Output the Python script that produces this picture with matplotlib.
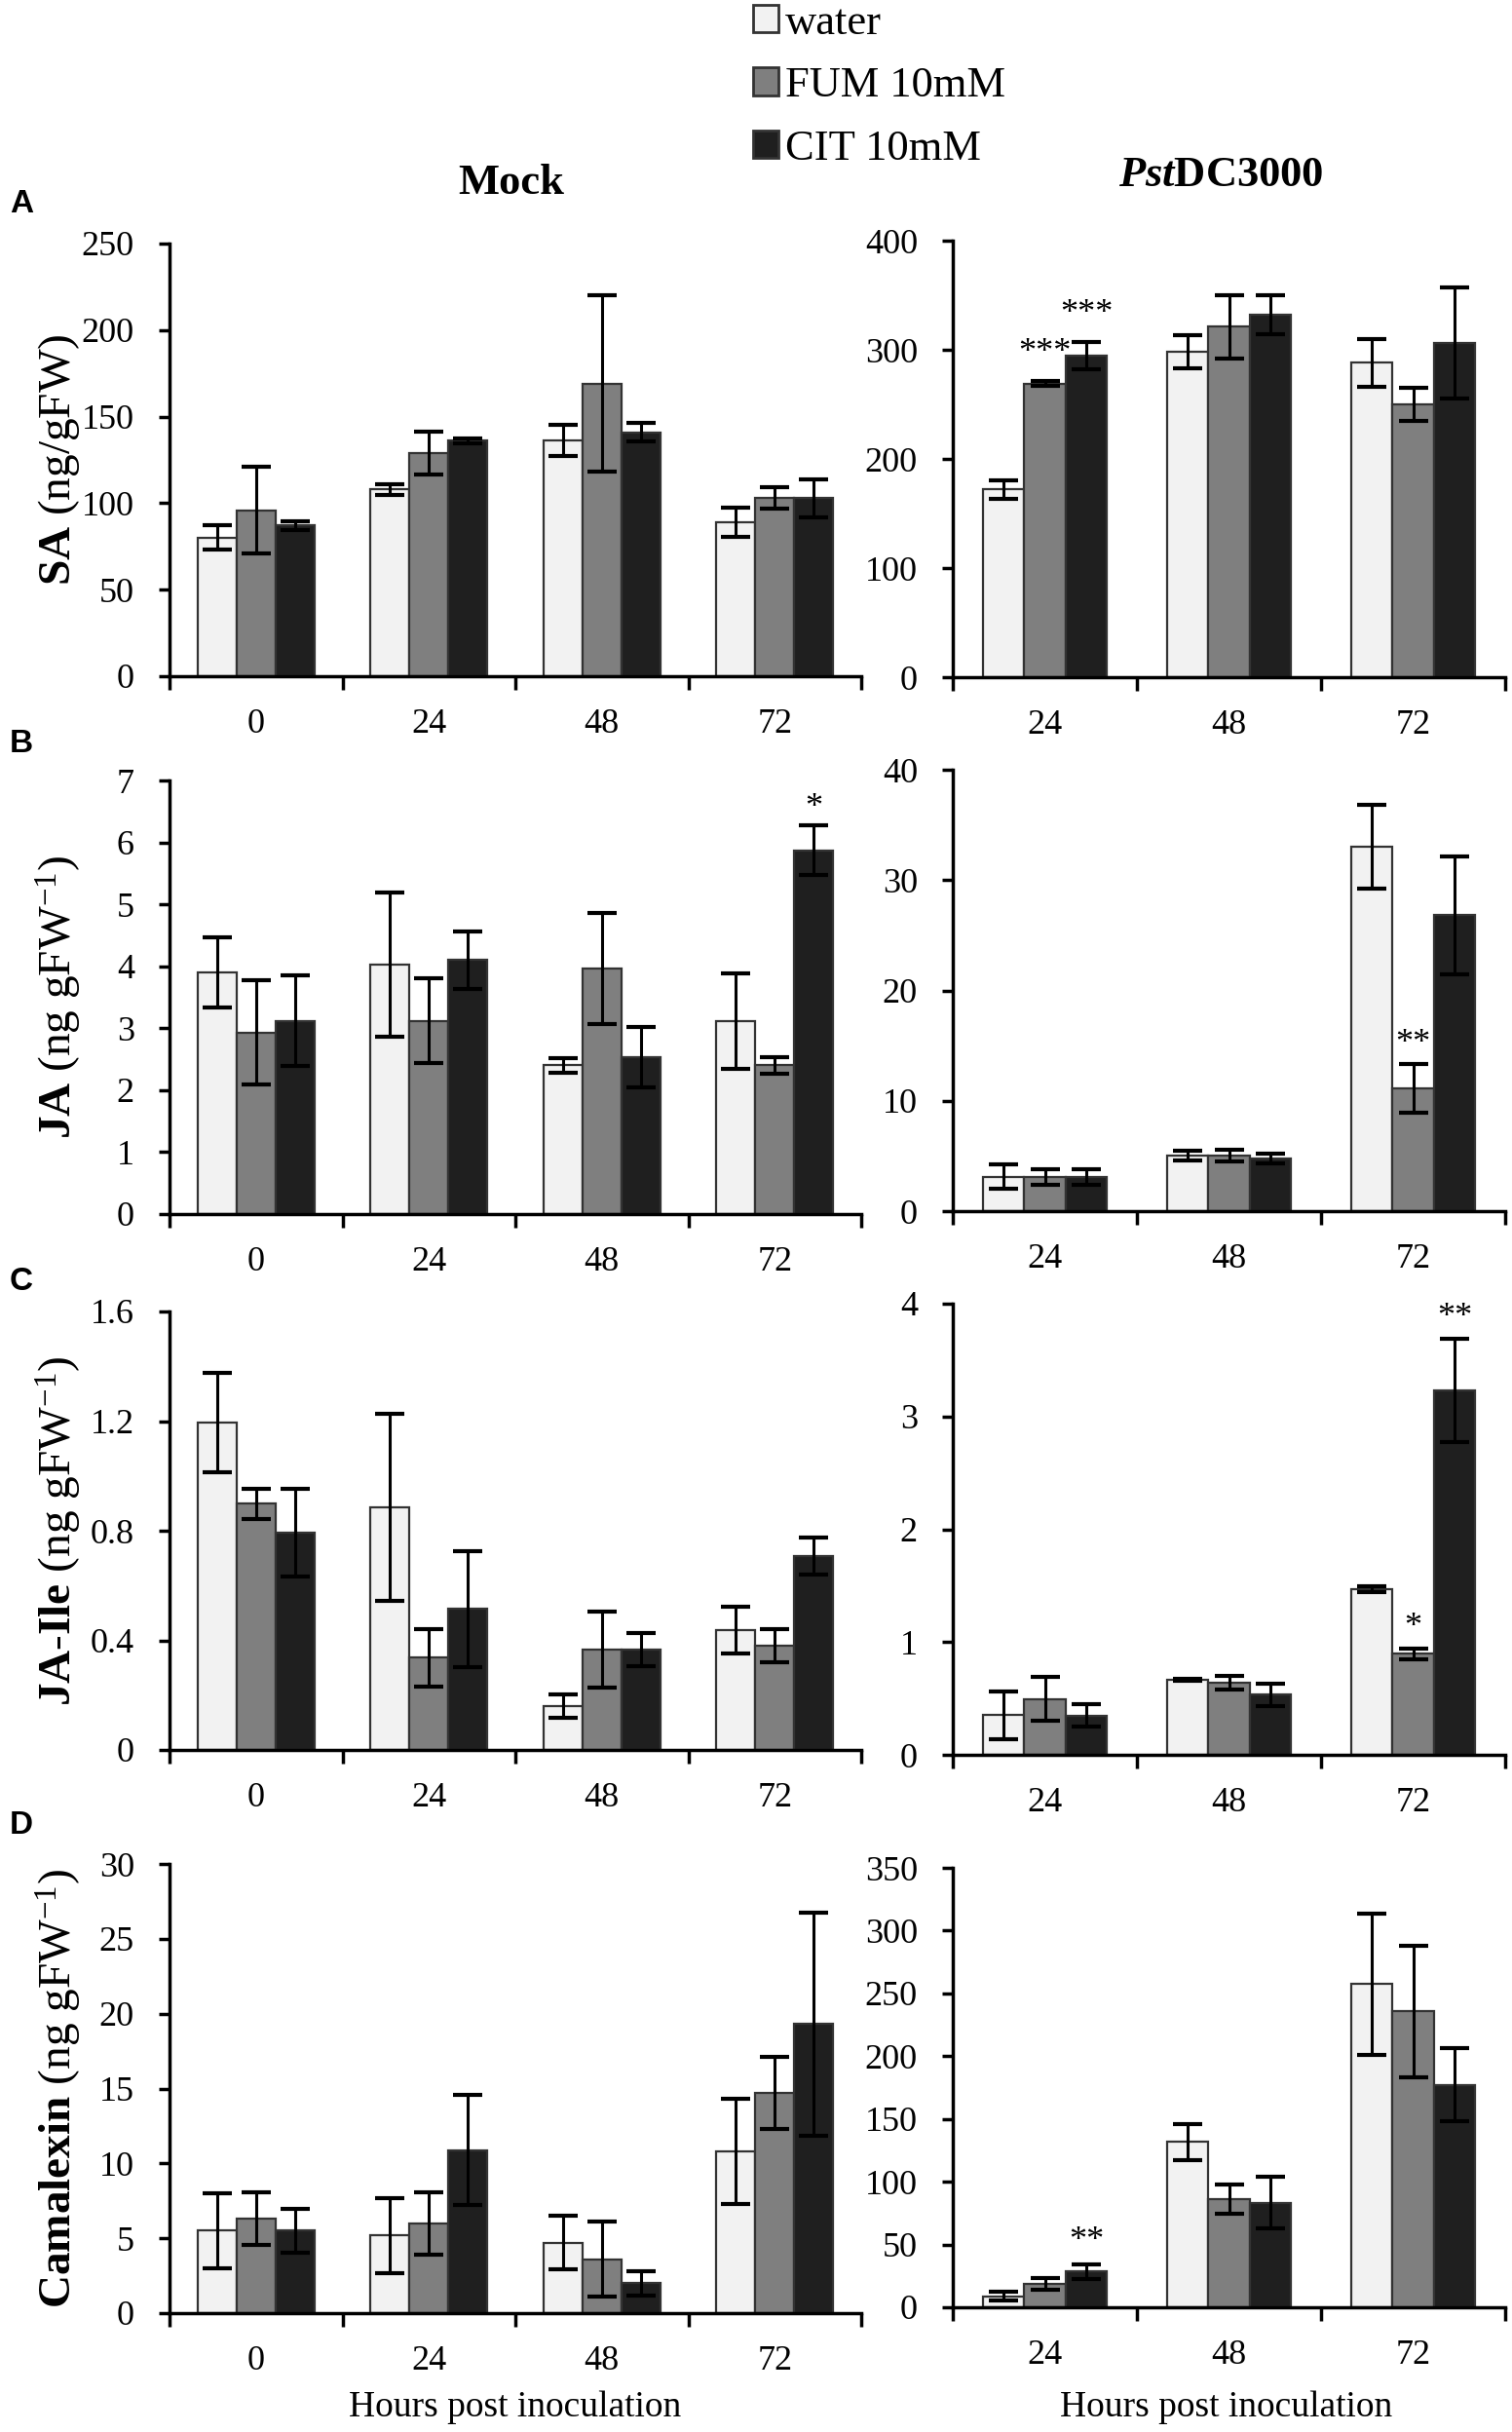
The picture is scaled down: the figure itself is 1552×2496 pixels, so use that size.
import numpy as np
import matplotlib
matplotlib.use('Agg')
import matplotlib.pyplot as plt
from matplotlib.patches import Patch
from matplotlib.ticker import FormatStrFormatter, MultipleLocator

plt.rcParams['font.family'] = ['Liberation Serif', 'DejaVu Serif']
plt.rcParams['mathtext.fontset'] = 'custom'
plt.rcParams['mathtext.rm'] = 'Liberation Serif'
plt.rcParams['mathtext.bf'] = 'Liberation Serif:bold'
plt.rcParams['mathtext.it'] = 'Liberation Serif:bold:italic'

W, H = 1552, 2496

mock_hours = ['0', '24', '48', '72']
pst_hours = ['24', '48', '72']
treatments = ['water', 'FUM 10mM', 'CIT 10mM']
bar_colors = ['#f2f2f2', '#7f7f7f', '#1f1f1f']

# A - SA  (rows: water, FUM, CIT)
sa_mock = [[80, 108, 136, 89], [96, 129, 169, 103], [87, 136, 141, 103]]
sa_mock_err = [[7, 3, 9, 8.5], [25, 12.5, 51, 6], [2.5, 1.5, 5.5, 11]]
sa_pst = [[172, 298, 288], [269, 321, 250], [295, 332, 306]]
sa_pst_err = [[8.5, 15, 22], [2, 29, 15], [12.5, 18, 51]]

# B - JA
ja_mock = [[3.9, 4.03, 2.4, 3.12], [2.93, 3.12, 3.96, 2.4], [3.12, 4.1, 2.53, 5.87]]
ja_mock_err = [[0.56, 1.16, 0.12, 0.77], [0.84, 0.68, 0.9, 0.14], [0.73, 0.46, 0.49, 0.4]]
ja_pst = [[3.1, 5.05, 33.0], [3.1, 5.05, 11.1], [3.1, 4.75, 26.8]]
ja_pst_err = [[1.1, 0.45, 3.8], [0.7, 0.55, 2.2], [0.7, 0.45, 5.3]]

# C - JA-Ile
jaile_mock = [[1.195, 0.885, 0.159, 0.438], [0.898, 0.337, 0.366, 0.381], [0.794, 0.514, 0.366, 0.707]]
jaile_mock_err = [[0.18, 0.34, 0.042, 0.085], [0.055, 0.105, 0.14, 0.06], [0.16, 0.21, 0.06, 0.068]]
jaile_pst = [[0.35, 0.667, 1.466], [0.494, 0.636, 0.895], [0.349, 0.534, 3.23]]
jaile_pst_err = [[0.21, 0.01, 0.025], [0.195, 0.06, 0.05], [0.1, 0.1, 0.46]]

# D - Camalexin
cam_mock = [[5.5, 5.2, 4.7, 10.8], [6.3, 6.0, 3.6, 14.7], [5.5, 10.9, 2.0, 19.3]]
cam_mock_err = [[2.5, 2.5, 1.8, 3.5], [1.75, 2.1, 2.5, 2.4], [1.45, 3.7, 0.83, 7.45]]
cam_pst = [[8.9, 131.7, 257.3], [18.5, 86.3, 235.6], [28.4, 83.4, 177.1]]
cam_pst_err = [[3.6, 14.4, 56], [4.5, 11.5, 52.7], [5.8, 20.5, 29.1]]

# significance marks: (hour index, treatment index, text, y)
sa_pst_stars = [(0, 1, '***', 305), (0, 2, '***', 341)]
ja_mock_stars = [(3, 2, '*', 6.7)]
ja_pst_stars = [(2, 1, '**', 16.0)]
jaile_pst_stars = [(2, 1, '*', 1.21), (2, 2, '**', 3.96)]
cam_pst_stars = [(0, 2, '**', 59.7)]

ylabels = [r'$\mathbf{SA}$ (ng/gFW)',
           r'$\mathbf{JA}$ (ng gFW$^{\mathrm{-1}}$)',
           r'$\mathbf{JA}$-$\mathbf{Ile}$ (ng gFW$^{\mathrm{-1}}$)',
           r'$\mathbf{Camalexin}$ (ng gFW$^{\mathrm{-1}}$)']

panels = [
    (sa_mock, sa_mock_err, [], (250, 50), sa_pst, sa_pst_err, sa_pst_stars, (400, 100)),
    (ja_mock, ja_mock_err, ja_mock_stars, (7, 1), ja_pst, ja_pst_err, ja_pst_stars, (40, 10)),
    (jaile_mock, jaile_mock_err, [], (1.6, 0.4), jaile_pst, jaile_pst_err, jaile_pst_stars, (4, 1)),
    (cam_mock, cam_mock_err, [], (30, 5), cam_pst, cam_pst_err, cam_pst_stars, (350, 50)),
]

# pixel layout: (top, bottom) for mock and pst axes of each row
row_px = [((250, 694), (247, 695)),
          ((801, 1246), (790, 1243)),
          ((1346, 1796), (1338, 1801)),
          ((1913, 2374), (1917, 2368))]
mock_lr = (174, 884)
pst_lr = (978, 1545)
letters = ['A', 'B', 'C', 'D']
letter_y = [209, 764, 1315, 1874]


def rect(lr, tb):
    l, r = lr
    t, b = tb
    return [l / W, 1 - b / H, (r - l) / W, (b - t) / H]


def draw(ax, vals, errs, hours, stars, ymax, ystep):
    n = len(hours)
    x = np.arange(n) + 0.5
    bw = 0.225
    for k in range(3):
        ax.bar(x + (k - 1) * bw, vals[k], bw, color=bar_colors[k],
               edgecolor='#333333', linewidth=1.6, zorder=2)
        ax.errorbar(x + (k - 1) * bw, vals[k], yerr=errs[k], fmt='none',
                    ecolor='black', elinewidth=2.2, capsize=11, capthick=3, zorder=3)
    for hi, ti, txt, yy in stars:
        ax.annotate(txt, xy=(x[hi] + (ti - 1) * bw, yy), xytext=(0, -13),
                    textcoords='offset points', ha='center', va='baseline', fontsize=26)
    ax.set_xlim(0, n)
    ax.set_ylim(0, ymax)
    ax.yaxis.set_major_locator(MultipleLocator(ystep))
    ax.yaxis.set_major_formatter(FormatStrFormatter('%g'))
    ax.set_xticks(x)
    ax.set_xticklabels(hours)
    ax.set_xticks(np.arange(n + 1), minor=True)
    ax.tick_params(axis='x', which='major', length=0, pad=24, labelsize=26)
    ax.tick_params(axis='x', which='minor', length=10, width=2.5, direction='out')
    ax.tick_params(axis='y', length=8, width=2.5, direction='out', pad=18, labelsize=26)
    for s in ['top', 'right']:
        ax.spines[s].set_visible(False)
    for s in ['left', 'bottom']:
        ax.spines[s].set_linewidth(2.5)
        ax.spines[s].set_zorder(4)


fig = plt.figure(figsize=(W / 100, H / 100), dpi=100)

for i, (mv, me, ms, (mmax, mstep), pv, pe, ps, (pmax, pstep)) in enumerate(panels):
    (mt, mb), (pt, pb) = row_px[i]
    ax1 = fig.add_axes(rect(mock_lr, (mt, mb)))
    draw(ax1, mv, me, mock_hours, ms, mmax, mstep)
    ax2 = fig.add_axes(rect(pst_lr, (pt, pb)))
    draw(ax2, pv, pe, pst_hours, ps, pmax, pstep)
    fig.text(60 / W, 1 - (mt + mb) / 2 / H, ylabels[i], rotation=90,
             ha='center', va='center', fontsize=34)
    fig.text(22 / W, 1 - letter_y[i] / H, letters[i], family='Liberation Sans',
             fontweight='bold', fontsize=24, ha='center', va='center')

fig.text(525 / W, 1 - 188 / H, 'Mock', fontsize=32, fontweight='bold', ha='center', va='center')
fig.text(1253 / W, 1 - 180 / H, r'$\mathit{Pst}$DC3000', fontsize=32, fontweight='bold',
         ha='center', va='center')

fig.text(529 / W, 1 - 2471 / H, 'Hours post inoculation', fontsize=27, ha='center', va='center')
fig.text(1259 / W, 1 - 2471 / H, 'Hours post inoculation', fontsize=27, ha='center', va='center')

handles = [Patch(facecolor=bar_colors[k], edgecolor='#333333', linewidth=2) for k in range(3)]
fig.legend(handles, treatments, loc='upper left', bbox_to_anchor=(755 / W, 1 + 14 / H),
           frameon=False, fontsize=32, handlelength=0.6, handleheight=0.6,
           handletextpad=0.15, labelspacing=0.55, borderaxespad=0)

fig.savefig('out.png', dpi=100)
